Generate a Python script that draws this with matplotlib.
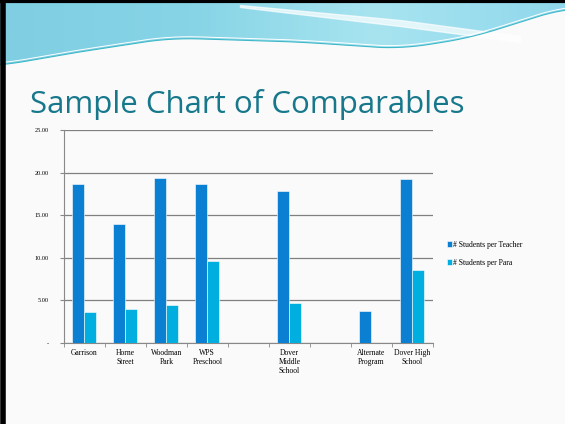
import numpy as np
import matplotlib.pyplot as plt
from matplotlib.colors import LinearSegmentedColormap

categories = ['Garrison', 'Horne\nStreet', 'Woodman\nPark', 'WPS\nPreschool', '',
              'Dover\nMiddle\nSchool', '', 'Alternate\nProgram', 'Dover High\nSchool']
per_teacher = [18.65, 13.95, 19.40, 18.65, 0, 17.85, 0, 3.75, 19.30]
per_para = [3.65, 3.95, 4.45, 9.65, 0, 4.75, 0, 0, 8.55]
series_names = ['# Students per Teacher', '# Students per Para']
yticks = [0, 5, 10, 15, 20, 25]
ytick_labels = ['-', '5.00', '10.00', '15.00', '20.00', '25.00']

teacher_color = '#0B80D2'
para_color = '#00AEE0'
serif = ['Liberation Serif', 'DejaVu Serif']

fig = plt.figure(figsize=(5.65, 4.24), dpi=100)
fig.patch.set_facecolor('#FAFAFA')

# slide decoration: wave header and frame
bg = fig.add_axes([0, 0, 1, 1])
bg.set_xlim(0, 565)
bg.set_ylim(424, 0)
bg.axis('off')
xs = np.linspace(0, 565, 400)
lower = np.interp(xs, [0, 60, 170, 300, 400, 470, 565], [66, 55, 38, 42, 49, 38, 8])
k = np.ones(41) / 41
lower = np.convolve(np.pad(lower, 20, mode='edge'), k, mode='valid')
grad = np.linspace(0, 1, 256).reshape(1, -1)
cmap = LinearSegmentedColormap.from_list('wave', ['#7FCEE2', '#86D4E6', '#A8E4F0', '#90D8EC'])
im = bg.imshow(grad, extent=[0, 565, 70, 0], aspect='auto', cmap=cmap, zorder=1)
clip = plt.Polygon(np.column_stack([np.r_[xs, xs[::-1]], np.r_[lower, np.zeros_like(xs)]]),
                   transform=bg.transData, facecolor='none', edgecolor='none')
bg.add_patch(clip)
im.set_clip_path(clip)
# white streak in the upper band
sx = np.linspace(240, 520, 60)
bg.fill_between(sx, np.interp(sx, [240, 400, 520], [5, 20, 36]),
                np.interp(sx, [240, 400, 520], [7, 26, 42]), color='white', alpha=0.7, zorder=2)
bg.plot(xs, lower, color='#3FB8C8', lw=0.8, zorder=3)
bg.plot(xs, lower - 2, color='white', lw=0.7, zorder=3)
bg.plot([2.5, 2.5], [0, 424], color='black', lw=4, zorder=4)
bg.plot([0, 565], [1, 1], color='black', lw=3, zorder=4)

fig.text(0.053, 0.733, 'Sample Chart of Comparables', fontsize=22.5,
         family=['Open Sans', 'DejaVu Sans'], color='#17788C')

ax = fig.add_axes([0.113, 0.191, 0.653, 0.502])
ax.set_facecolor('none')
x = np.arange(len(categories))
w = 0.29
ax.bar(x - w / 2, per_teacher, w, color=teacher_color, edgecolor='white', linewidth=0.4,
       label=series_names[0], zorder=3)
ax.bar(x + w / 2, per_para, w, color=para_color, edgecolor='white', linewidth=0.4,
       label=series_names[1], zorder=3)

ax.set_xlim(-0.5, len(categories) - 0.5)
ax.set_ylim(0, 25)
ax.set_yticks(yticks)
ax.set_yticklabels(ytick_labels, fontsize=4.5, family=serif)
ax.yaxis.grid(True, color='#808080', linewidth=0.9, zorder=0)
ax.set_xticks(x)
ax.set_xticklabels(categories, fontsize=5.5, family=serif, linespacing=1.2)
ax.set_xticks(np.arange(len(categories) + 1) - 0.5, minor=True)
ax.tick_params(axis='x', which='major', length=0, pad=4)
ax.tick_params(axis='x', which='minor', length=3, color='#888888')
ax.tick_params(axis='y', length=3, color='#888888', pad=8)
for s in ['top', 'right']:
    ax.spines[s].set_visible(False)
ax.spines['left'].set_color('#888888')
ax.spines['bottom'].set_color('#888888')

ax.legend(loc='center left', bbox_to_anchor=(1.02, 0.42), frameon=False,
          prop={'family': serif, 'size': 5.5}, handlelength=0.7, handleheight=0.7,
          handletextpad=0.1, labelspacing=1.3)

fig.savefig('out.png', dpi=100)
